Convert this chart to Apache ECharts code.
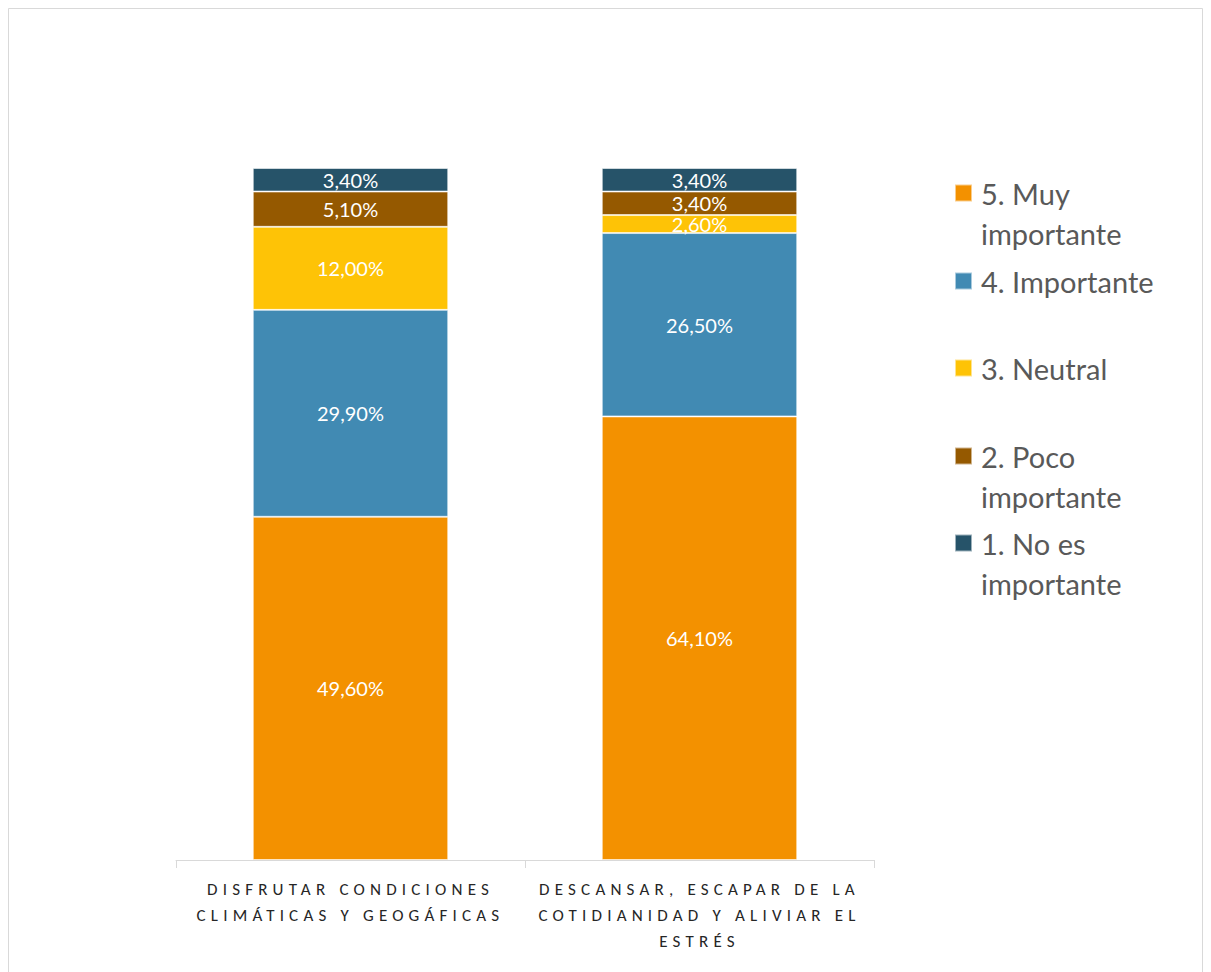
<!DOCTYPE html>
<html>
<head>
<meta charset="utf-8">
<script src="https://cdn.jsdelivr.net/npm/echarts@6/dist/echarts.min.js"></script>
<style>
  html, body { margin: 0; padding: 0; background: #fff; }
  #chart { width: 1211px; height: 972px; }
  /* spaced capitals for the category captions */
  #chart text[style*="Carlito"], #chart text[font-family*="Carlito"] { letter-spacing: 5.2px; }
</style>
</head>
<body>
<div id="chart"></div>
<script>
// Categories (line breaks as they wrap under each bar)
const categories = [
  'DISFRUTAR CONDICIONES\nCLIMÁTICAS Y GEOGÁFICAS',
  'DESCANSAR, ESCAPAR DE LA\nCOTIDIANIDAD Y ALIVIAR EL\nESTRÉS'
];

// Share of answers per level (%), stacked bottom to top
const muyImportante  = [49.6, 64.1];
const importante     = [29.9, 26.5];
const neutral        = [12.0, 2.6];
const pocoImportante = [5.1, 3.4];
const noImportante   = [3.4, 3.4];

const seriesNames = ['5. Muy importante', '4. Importante', '3. Neutral', '2. Poco importante', '1. No es importante'];
const seriesValues = [muyImportante, importante, neutral, pocoImportante, noImportante];
const colors = ['#F39100', '#418AB3', '#FEC306', '#955900', '#265369'];

// Legend wording, broken over lines; a leading blank line keeps the
// marker level with the first line of two-line entries
const legendText = {
  '5. Muy importante': '\n5. Muy\nimportante',
  '4. Importante': '4. Importante',
  '3. Neutral': '3. Neutral',
  '2. Poco importante': '\n2. Poco\nimportante',
  '1. No es importante': '\n1. No es\nimportante'
};
const legendCenters = [193, 281, 368, 456, 543];
const LH = 40;

const fmt = v => v.toFixed(2).replace('.', ',') + '%';

const legends = seriesNames.map((name, i) => {
  const lines = legendText[name].split('\n').length;
  return {
    data: [name],
    orient: 'vertical',
    left: 954,
    top: legendCenters[i] - lines * LH / 2,
    padding: 0,
    itemWidth: 17,
    itemHeight: 17,
    icon: 'rect',
    selectedMode: false,
    formatter: n => legendText[n],
    textStyle: {
      fontFamily: 'Lato',
      fontSize: 29,
      color: '#595959',
      lineHeight: LH,
      padding: [0, 0, 0, 4]
    }
  };
});

const chart = echarts.init(document.getElementById('chart'), null, { renderer: 'svg' });
chart.setOption({
  animation: false,
  color: colors,
  graphic: [{
    type: 'rect',
    shape: { x: 8.5, y: 8.5, width: 1194, height: 990 },
    style: { fill: 'none', stroke: '#D9D9D9', lineWidth: 1 },
    silent: true
  }],
  legend: legends,
  grid: { left: 176, right: 337, top: 168, bottom: 112, containLabel: false },
  xAxis: {
    type: 'category',
    data: categories,
    axisLine: { lineStyle: { color: '#D9D9D9', width: 1 } },
    axisTick: { show: true, length: 8, lineStyle: { color: '#D9D9D9' } },
    axisLabel: {
      interval: 0,
      margin: 16,
      fontFamily: 'Carlito, Lato',
      fontSize: 17,
      color: '#262626',
      lineHeight: 26
    }
  },
  yAxis: {
    type: 'value',
    min: 0,
    max: 100,
    show: false,
    splitLine: { show: false }
  },
  series: seriesNames.map((name, i) => ({
    name: name,
    type: 'bar',
    stack: 'total',
    barWidth: '56%',
    data: seriesValues[i],
    itemStyle: { color: colors[i], borderColor: 'rgba(255,255,255,0.55)', borderWidth: 1 },
    label: {
      show: true,
      position: 'inside',
      formatter: p => fmt(p.value),
      fontFamily: 'Lato',
      fontSize: 20,
      color: '#FFFFFF'
    }
  }))
});
</script>
</body>
</html>
